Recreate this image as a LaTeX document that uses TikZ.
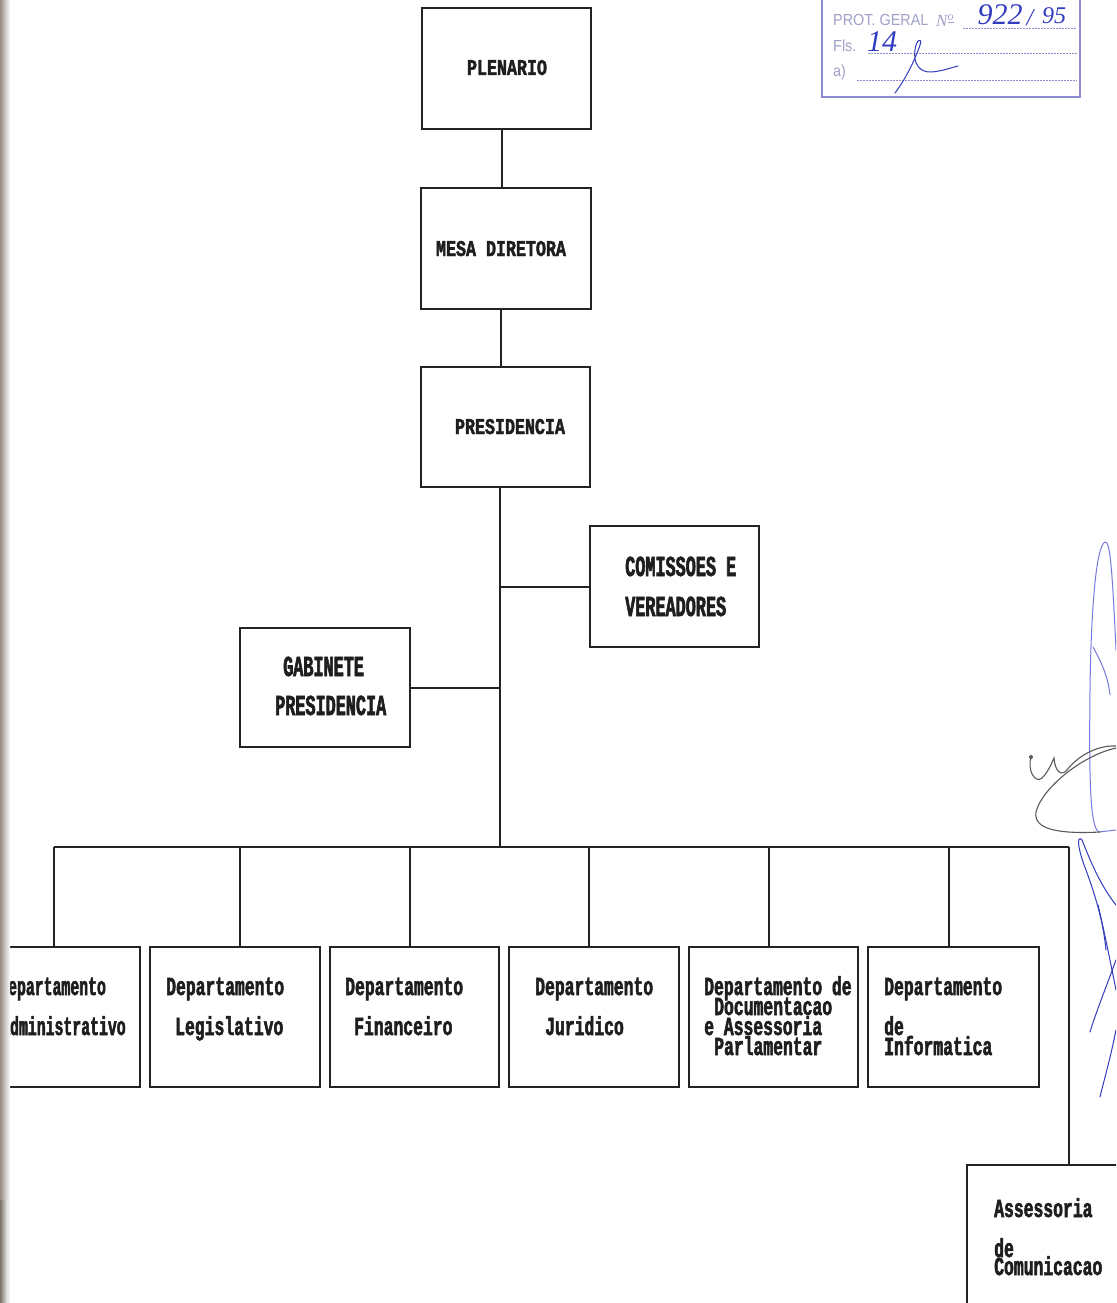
\documentclass[tikz,border=0pt]{standalone}
\usepackage{fontspec}
% dot-matrix style lettering, several widths
\newfontfamily\dotTitle[FakeStretch=0.74,FakeBold=2]{Liberation Mono Bold}
\newfontfamily\dotSide[FakeStretch=0.58,FakeBold=2]{Liberation Mono Bold}
\newfontfamily\dotDept[FakeStretch=0.63,FakeBold=2]{Liberation Mono Bold}
\newfontfamily\dotNarrow[FakeStretch=0.57,FakeBold=2]{Liberation Mono Bold}
\newfontfamily\stampfont[FakeStretch=0.9]{Liberation Sans}
\newfontfamily\handfont{Liberation Serif}
\usetikzlibrary{calc}

\definecolor{linecol}{RGB}{35,35,35}
\definecolor{textcol}{RGB}{30,30,30}
\definecolor{stampc}{RGB}{140,140,205}
\definecolor{stamptext}{RGB}{160,160,200}
\definecolor{ink}{RGB}{50,60,190}
\definecolor{penA}{RGB}{120,120,225}
\definecolor{penG}{RGB}{90,90,90}
\definecolor{edgeshade}{RGB}{150,140,130}

\tikzset{
  box/.style={draw=linecol, line width=2pt, rectangle, inner sep=0pt, outer sep=0pt},
  link/.style={draw=linecol, line width=2pt},
  lbl/.style={inner sep=0pt, text=textcol, text height=12pt, text depth=0pt, anchor=west},
  ttl/.style={lbl, font=\dotTitle\fontsize{22.5}{22}\selectfont},
  side/.style={lbl, font=\dotSide\fontsize{29}{22}\selectfont, text height=16pt},
  dept/.style={lbl, font=\dotDept\fontsize{26}{20}\selectfont, text height=14pt},
  deptn/.style={lbl, font=\dotNarrow\fontsize{26}{20}\selectfont, text height=14pt},
  stamplbl/.style={inner sep=0pt, anchor=west, text=stamptext, font=\stampfont\fontsize{16}{16}\selectfont},
  hand/.style={inner sep=0pt, text=ink, font=\handfont\itshape\fontsize{30}{30}\selectfont},
  signA/.style={draw=penA, line width=1pt, line cap=round},
  signB/.style={draw=ink, line width=1pt, line cap=round},
  signG/.style={draw=penG, line width=1.1pt, line cap=round}
}

\begin{document}
\begin{tikzpicture}[x=1pt, y=-1pt]
\useasboundingbox (0,0) rectangle (1116,1303);
\clip (0,0) rectangle (1116,1303);
\fill[white] (0,0) rectangle (1116,1303);

% ---- main chain -------------------------------------------------
\node[box, minimum width=169pt, minimum height=121pt] (plen) at (506.5,68.5) {};
\node[box, minimum width=170pt, minimum height=121pt] (mesa) at (506,248.5) {};
\node[box, minimum width=169pt, minimum height=120pt] (pres) at (505.5,427) {};
\node[box, minimum width=169pt, minimum height=121pt] (com)  at (674.5,586.5) {};
\node[box, minimum width=170pt, minimum height=119pt] (gab)  at (325,687.5) {};

\node[ttl, anchor=center] (plenT) at (507,69) {PLENARIO};
\node[ttl, anchor=center] (mesaT) at (501,250) {MESA DIRETORA};
\node[ttl, anchor=center] (presT) at (510,428) {PRESIDENCIA};
\node[side] (comT1) at (625,568) {COMISSOES E};
\node[side] (comT2) at (625,608) {VEREADORES};
\node[side] (gabT1) at (283,668) {GABINETE};
\node[side] (gabT2) at (275,707) {PRESIDENCIA};

\coordinate (spineA) at (502,0);
\coordinate (spineB) at (501,0);
\coordinate (spine)  at (500,0);
\coordinate (busL) at (54,847);
\coordinate (busR) at (1069,847);

\draw[link] (plen.south -| spineA) -- (mesa.north -| spineA);
\draw[link] (mesa.south -| spineB) -- (pres.north -| spineB);
\draw[link] (pres.south -| spine) -- (busL -| spine);
\draw[link] (com.west -| spine) -- (com.west);
\draw[link] (gab.east) -- (gab.east -| spine);

% ---- departments ------------------------------------------------
\node[box, minimum width=150pt, minimum height=140pt] (d1) at (65,1017) {};
\node[box, minimum width=170pt, minimum height=140pt] (d2) at (235,1017) {};
\node[box, minimum width=169pt, minimum height=140pt] (d3) at (414.5,1017) {};
\node[box, minimum width=170pt, minimum height=140pt] (d4) at (594,1017) {};
\node[box, minimum width=169pt, minimum height=140pt] (d5) at (773.5,1017) {};
\node[box, minimum width=171pt, minimum height=140pt] (d6) at (953.5,1017) {};
\node[box, minimum width=163pt, minimum height=155pt] (ac) at (1048.5,1242.5) {};

\coordinate (t1) at (54,847);
\coordinate (t2) at (240,847);
\coordinate (t3) at (410,847);
\coordinate (t4) at (589,847);
\coordinate (t5) at (769,847);
\coordinate (t6) at (949,847);

\draw[link] (busL) -- (busR);
\foreach \i in {1,...,6} { \draw[link] (t\i) -- (d\i.north -| t\i); }
\draw[link] (busR) -- (ac.north -| busR);

\node[deptn] (d1a) at (-1,988) {Departamento};
\node[deptn] (d1b) at (1,1028) {Administrativo};
\node[dept] (d2a) at (166,988) {Departamento};
\node[dept] (d2b) at (175,1028) {Legislativo};
\node[dept] (d3a) at (345,988) {Departamento};
\node[dept] (d3b) at (354,1028) {Financeiro};
\node[dept] (d4a) at (535,988) {Departamento};
\node[dept] (d4b) at (545,1028) {Juridico};
\node[dept] (d5a) at (704,988) {Departamento de};
\node[dept] (d5b) at (714,1008) {Documentacao};
\node[dept] (d5c) at (704,1028) {e Assessoria};
\node[dept] (d5d) at (714,1048) {Parlamentar};
\node[dept] (d6a) at (884,988) {Departamento};
\node[dept] (d6b) at (884,1028) {de};
\node[dept] (d6c) at (884,1048) {Informatica};
\node[dept] (aca) at (994,1210) {Assessoria};
\node[dept] (acb) at (994,1250) {de};
\node[dept] (acc) at (994,1268) {Comunicacao};

% ---- protocol stamp ---------------------------------------------
\draw[stampc, line width=1.6pt] (822,-3) -- (822,97) -- (1080,97) -- (1080,-3);
\draw[stampc, line width=0.9pt, dash pattern=on 1.5pt off 1.5pt] (963,28) -- (1077,28);
\draw[stampc, line width=0.9pt, dash pattern=on 1.5pt off 1.5pt] (868,53) -- (1077,53);
\draw[stampc, line width=0.9pt, dash pattern=on 1.5pt off 1.5pt] (857,80) -- (1077,80);
\node[stamplbl] (prot) at (833,20) {PROT. GERAL};
\node[stamplbl, font=\handfont\itshape\fontsize{17}{17}\selectfont] (numsign) at (936,21) {N\textsuperscript{\underline{o}}};
\node[stamplbl] (fls) at (833,46) {Fls.};
\node[stamplbl] (asig) at (833,72) {a)};
\node[hand, anchor=center] (pnum) at (1000,15) {922};
\node[hand, anchor=center, font=\handfont\itshape\fontsize{24}{24}\selectfont] (pbar) at (1030,18) {/};
\node[hand, anchor=center, font=\handfont\itshape\fontsize{24}{24}\selectfont] (pyear) at (1054,16) {95};
\node[hand, anchor=center, font=\handfont\itshape\fontsize{30}{30}\selectfont] (fnum) at (882,42) {14};
\draw[signB] (895,93) .. controls (905,80) and (915,60) .. (920,45)
  .. controls (923,37) and (916,39) .. (915,50)
  .. controls (913,64) and (920,73) .. (932,72)
  .. controls (942,71) and (950,68) .. (958,66);

% ---- signatures in the margin -----------------------------------
\draw[signA] (1116,650) .. controls (1112,565) and (1110,541) .. (1105,542)
  .. controls (1096,546) and (1091,610) .. (1090,690)
  .. controls (1089,780) and (1090,828) .. (1099,832) -- (1116,830);
\draw[signA] (1093,647) .. controls (1100,660) and (1108,675) .. (1110,695);
\fill[penG] (1031,757) circle (2pt);
\draw[signG] (1031,757) .. controls (1027,770) and (1035,784) .. (1042,778)
  .. controls (1049,771) and (1052,762) .. (1054,758)
  .. controls (1055,771) and (1061,777) .. (1067,770)
  .. controls (1076,758) and (1095,745) .. (1116,746);
\draw[signG] (1116,748) .. controls (1080,756) and (1041,790) .. (1036,812)
  .. controls (1033,830) and (1060,834) .. (1100,832);
\draw[signB] (1082,840) .. controls (1076,834) and (1078,850) .. (1086,870)
  .. controls (1095,895) and (1103,920) .. (1106,950);
\draw[signB] (1082,840) .. controls (1090,860) and (1100,885) .. (1116,905);
\draw[signB] (1098,905) .. controls (1104,930) and (1110,960) .. (1116,990);
\draw[signB] (1116,960) .. controls (1105,990) and (1095,1015) .. (1090,1032);
\draw[signB] (1116,1030) .. controls (1110,1060) and (1104,1080) .. (1100,1097);

% ---- shadow of the page fold at the left edge -------------------
\shade[left color=edgeshade, right color=white] (0,-1) rectangle (10,1304);
\shade[left color=edgeshade!70!black, right color=white, opacity=0.6] (0,1200) rectangle (8,1304);
\end{tikzpicture}
\end{document}
